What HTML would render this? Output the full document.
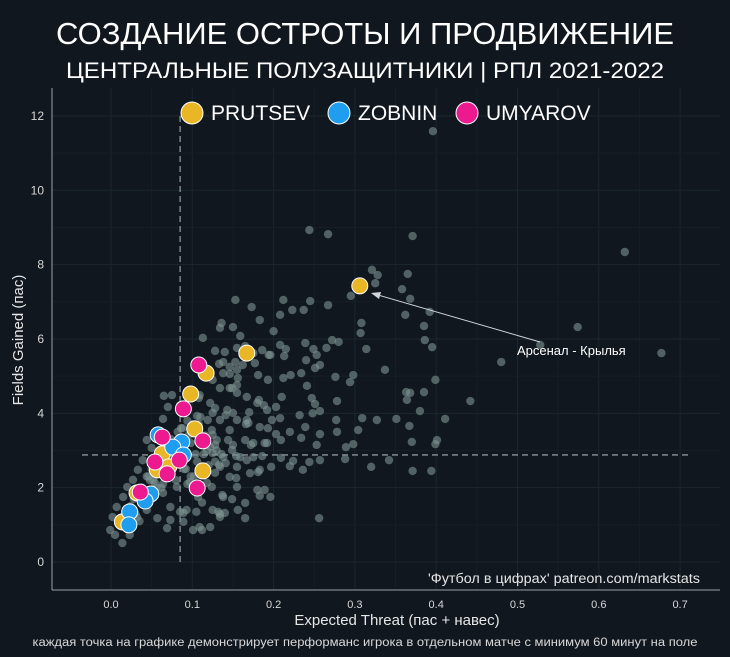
<!DOCTYPE html>
<html><head><meta charset="utf-8"><style>
html,body{margin:0;padding:0;background:#10171f;}
svg{display:block;font-family:"Liberation Sans","DejaVu Sans",sans-serif;}
</style></head><body>
<svg id="chart" width="730" height="657" viewBox="0 0 730 657">
<rect width="730" height="657" fill="#10171f"/>
<text x="365" y="44" text-anchor="middle" fill="#ffffff" font-size="31" textLength="618" lengthAdjust="spacingAndGlyphs">СОЗДАНИЕ ОСТРОТЫ И ПРОДВИЖЕНИЕ</text>
<text x="365" y="78" text-anchor="middle" fill="#ffffff" font-size="22" textLength="598" lengthAdjust="spacingAndGlyphs">ЦЕНТРАЛЬНЫЕ ПОЛУЗАЩИТНИКИ | РПЛ 2021-2022</text>
<g id="grid"></g>
<g id="axes"></g>
<g id="refs"></g>
<g id="grey"></g>
<g id="players"></g>
<g id="legend"></g>
<text x="700" y="583" text-anchor="end" fill="#e6e6e6" font-size="13.5" textLength="272" lengthAdjust="spacingAndGlyphs">'Футбол в цифрах' patreon.com/markstats</text>
<text x="517" y="355" fill="#ffffff" font-size="13">Арсенал - Крылья</text>
<line x1="540" y1="342" x2="378" y2="295" stroke="#d0d6da" stroke-width="1"/>
<polygon points="371,293 381,292 379,299" fill="#d0d6da"/>
<text x="397" y="625" text-anchor="middle" fill="#e6e6e6" font-size="15">Expected Threat (пас + навес)</text>
<text transform="translate(23,340) rotate(-90)" text-anchor="middle" fill="#e6e6e6" font-size="15">Fields Gained (пас)</text>
<text x="365" y="646" text-anchor="middle" fill="#d8d8d8" font-size="11.5" textLength="665" lengthAdjust="spacingAndGlyphs">каждая точка на графике демонстрирует перформанс игрока в отдельном матче с минимум 60 минут на поле</text>
</svg>
<script>
const xTicks=[0,0.1,0.2,0.3,0.4,0.5,0.6,0.7];
const xTickLabels=["0.0","0.1","0.2","0.3","0.4","0.5","0.6","0.7"];
const yTicks=[0,2,4,6,8,10,12];
const yTickLabels=["0","2","4","6","8","10","12"];
const refX=0.085, refY=2.88;
const prutsevX=[0.306,0.167,0.117,0.098,0.103,0.063,0.057,0.071,0.113,0.032,0.014];
const prutsevY=[7.43,5.62,5.08,4.52,3.58,2.91,2.48,2.56,2.45,1.86,1.08];
const zobninX=[0.058,0.087,0.076,0.089,0.049,0.042,0.023,0.022];
const zobninY=[3.42,3.23,3.09,2.88,1.83,1.64,1.35,1.00];
const umyarovX=[0.108,0.089,0.063,0.113,0.054,0.084,0.069,0.106,0.036];
const umyarovY=[5.30,4.12,3.36,3.26,2.69,2.74,2.37,1.99,1.88];
const greyX=[0.244,0.267,0.371,0.321,0.328,0.325,0.365,0.358,0.368,0.295,0.153,0.173,0.212,0.223,0.208,0.237,0.136,0.134,0.150,0.159,0.183,0.200,0.245,0.267,0.308,0.307,0.362,0.385,0.395,0.280,0.249,0.239,0.265,0.272,0.215,0.208,0.314,0.140,0.155,0.165,0.186,0.194,0.213,0.240,0.253,0.177,0.257,0.162,0.155,0.133,0.146,0.156,0.221,0.234,0.251,0.276,0.298,0.155,0.146,0.212,0.109,0.182,0.210,0.241,0.247,0.294,0.278,0.248,0.337,0.363,0.368,0.364,0.385,0.442,0.251,0.188,0.203,0.170,0.128,0.141,0.155,0.119,0.167,0.208,0.232,0.257,0.309,0.327,0.380,0.411,0.351,0.277,0.125,0.146,0.166,0.193,0.203,0.220,0.239,0.257,0.278,0.304,0.367,0.401,0.128,0.150,0.172,0.189,0.209,0.234,0.253,0.289,0.298,0.370,0.125,0.154,0.186,0.209,0.224,0.244,0.257,0.288,0.342,0.394,0.133,0.141,0.167,0.197,0.220,0.236,0.320,0.371,0.154,0.181,0.189,0.124,0.137,0.149,0.183,0.125,0.134,0.156,0.165,0.256,0.107,0.105,0.109,
0.113,0.128,0.138,0.065,0.075,0.070,0.064,0.085,0.108,0.106,0.134,0.044,0.050,0.039,0.033,0.027,0.020,0.015,0.007,0.002,-0.001,0.005,0.014,0.023,0.032,0.044,0.057,0.069,0.085,0.089,0.093,0.112,0.122,0.132,0.140,0.138,0.097,0.081,0.064,0.073,0.054,0.118,0.134,0.138,0.149,0.144,0.169,0.130,0.124,0.125,0.143,0.150,0.122,0.149,0.155,0.134,0.125,0.138,0.146,0.153,0.175,0.196,0.181,0.193,0.167,0.180,0.192,0.198,0.183,0.165,0.175,0.192,0.159,0.175,0.155,0.171,0.183,0.146,0.155,0.165,0.180,0.196,0.134,0.101,0.089,0.073,0.020,
0.396,0.632,0.574,0.677,0.528,0.480,0.399,0.392,0.386,0.399,0.090,0.095,0.100,0.078,0.072,0.060,0.052,0.046,0.040,0.030,0.035,0.080,0.092,0.104,0.110,0.098,0.088,0.070,0.062,0.118,0.128,0.112,0.102,0.094,
0.066,0.074,0.082,0.058,0.050,0.044,0.038,0.028,0.024,0.018,0.012,0.086,0.094,0.100,0.108,0.116,0.122,0.130,0.078,0.070,0.060,0.048,0.056,0.064,0.090,0.098,0.106,0.114,0.120,0.128,0.136];
const greyY=[8.93,8.82,8.77,7.86,7.72,7.5,7.75,7.34,7.08,7.16,7.05,6.86,7.05,6.78,6.65,6.78,6.43,6.3,6.32,6.08,6.51,6.21,7.02,6.91,6.43,6.16,6.65,6.35,5.78,5.92,5.73,5.89,5.76,5.97,5.73,5.84,5.73,5.65,5.76,5.81,5.70,5.57,5.54,5.43,5.57,5.35,5.30,5.30,5.17,5.33,5.06,4.95,5.03,5.08,5.22,4.98,5.03,4.76,4.68,4.95,4.49,4.36,4.44,4.74,4.41,4.84,4.33,4.0,5.17,4.57,4.55,4.36,4.57,4.33,4.25,4.22,4.17,4.03,4.14,3.95,3.82,3.82,3.82,3.87,3.95,4.06,3.87,3.82,4.06,3.85,3.85,3.82,3.42,3.55,3.71,3.60,3.44,3.50,3.63,3.44,3.50,3.55,3.66,3.28,3.15,3.15,3.15,3.20,3.28,3.34,3.15,3.09,3.17,3.23,2.93,2.85,2.85,2.80,2.72,2.69,2.74,2.77,2.74,2.45,2.61,2.66,2.74,2.56,2.58,2.48,2.56,2.45,2.26,2.42,1.94,2.02,1.80,1.69,1.78,1.40,1.29,1.40,1.18,1.18,1.75,1.35,0.94,
6.03,5.68,5.38,4.47,4.49,4.17,3.85,4.22,4.41,3.93,3.82,3.28,3.07,2.74,2.48,2.21,2.02,1.75,1.48,1.21,0.86,0.73,0.51,0.73,1.21,1.40,1.18,0.91,1.35,1.08,1.40,0.86,0.94,1.35,1.32,1.75,2.15,2.02,1.86,1.48,2.13,2.13,2.56,2.82,3.01,3.28,3.74,3.28,3.55,4.01,4.09,4.01,4.28,4.68,4.55,4.68,4.90,5.08,5.25,5.38,5.62,5.57,5.03,4.90,4.44,4.28,4.09,3.82,3.63,3.28,3.20,3.20,2.82,2.82,2.56,2.39,2.48,2.29,2.02,1.59,1.94,1.75,1.21,0.86,1.32,1.13,0.94,
11.59,8.34,6.32,5.62,5.84,5.38,3.17,6.73,5.97,4.90,3.10,3.40,3.70,3.00,2.60,2.40,2.20,2.30,1.60,1.30,1.10,2.20,2.50,2.90,3.90,3.20,3.60,3.10,2.00,3.00,2.70,1.60,2.30,2.10,
3.00,3.30,3.50,2.70,2.50,2.30,2.00,1.70,1.50,1.30,1.00,3.60,3.80,3.50,3.70,3.40,3.10,3.00,2.80,2.90,2.60,2.20,2.00,2.10,2.50,2.30,2.70,2.90,2.60,2.40,2.90];
const NS="http://www.w3.org/2000/svg";
const X0=111, XS=813, Y0=562, YS=37.17;
function sx(v){return X0+v*XS;}
function sy(v){return Y0-v*YS;}
function mk(tag,attrs,parent){const e=document.createElementNS(NS,tag);for(const k in attrs)e.setAttribute(k,attrs[k]);parent.appendChild(e);return e;}
const grid=document.getElementById('grid'),axes=document.getElementById('axes'),refs=document.getElementById('refs');
xTicks.forEach((t,i)=>{
  const g=mk('line',{x1:sx(t),x2:sx(t),y1:88,y2:590,stroke:'#1b262e','stroke-width':1},grid);
  
  
  if(i<xTicks.length-1){const m=mk('line',{x1:sx(t+0.05),x2:sx(t+0.05),y1:88,y2:590,stroke:'#151e26','stroke-width':1},grid);
  
  }
  const tk=mk('text',{x:sx(t),y:608,'text-anchor':'middle',fill:'#d8d8d8','font-size':11},axes);
  tk.textContent=xTickLabels[i];
  
  
});
yTicks.forEach((t,i)=>{
  const g=mk('line',{x1:52,x2:720,y1:sy(t),y2:sy(t),stroke:'#1b262e','stroke-width':1},grid);
  
  
  if(i<yTicks.length-1){const m=mk('line',{x1:52,x2:720,y1:sy(t+1),y2:sy(t+1),stroke:'#151e26','stroke-width':1},grid);
  
  }
  const tk=mk('text',{x:44,y:sy(t)+4,'text-anchor':'end',fill:'#d8d8d8','font-size':12},axes);
  tk.textContent=yTickLabels[i];
  
  
});
const ya=mk('line',{x1:52,x2:52,y1:88,y2:590,stroke:'#9aa3a8','stroke-width':1},axes);


const xa=mk('line',{x1:52,x2:720,y1:590,y2:590,stroke:'#9aa3a8','stroke-width':1},axes);


const rv=mk('line',{x1:sx(refX),x2:sx(refX),y1:116,y2:566,stroke:'#8a959b','stroke-width':1.3,'stroke-dasharray':'6,4'},refs);


const rh=mk('line',{x1:82,x2:690,y1:sy(refY),y2:sy(refY),stroke:'#8a959b','stroke-width':1.3,'stroke-dasharray':'6,4'},refs);


const grey=document.getElementById('grey');
greyX.forEach((x,i)=>{
  const c=mk('circle',{cx:sx(x),cy:sy(greyY[i]),r:4.2,fill:'#7f9493','fill-opacity':0.6},grey);
  
  
});
const players=document.getElementById('players');
function series(xs,ys,col,name){xs.forEach((x,i)=>{
  const c=mk('circle',{cx:sx(x),cy:sy(ys[i]),r:8,fill:col,stroke:'#ffffff','stroke-width':1},players);
  
  
});}
series(prutsevX,prutsevY,'#e9b625','prutsev');
series(zobninX,zobninY,'#1f9ef0','zobnin');
series(umyarovX,umyarovY,'#ec1a8e','umyarov');
const legend=document.getElementById('legend');
[['PRUTSEV','#e9b625',192],['ZOBNIN','#1f9ef0',339],['UMYAROV','#ec1a8e',467]].forEach(d=>{
  const c=mk('circle',{cx:d[2],cy:113,r:11,fill:d[1],stroke:'#ffffff','stroke-width':1},legend);
  
  
  const t=mk('text',{x:d[2]+19,y:120,fill:'#ffffff','font-size':21},legend);
  t.textContent=d[0];
  
  
});
</script>
</body></html>
